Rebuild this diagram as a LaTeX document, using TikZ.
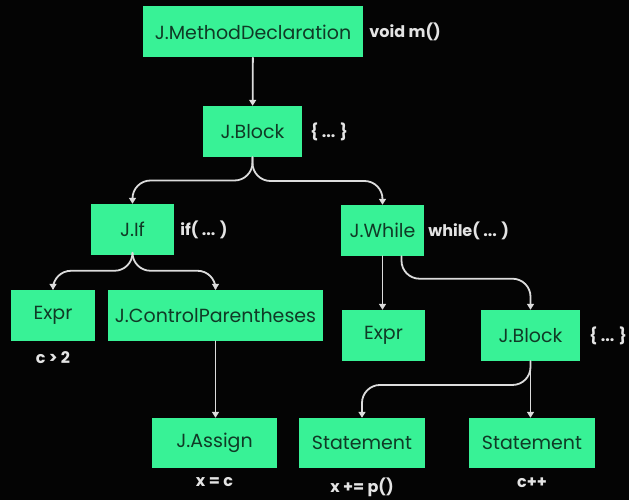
\documentclass[tikz,border=0pt]{standalone}
\usepackage{fontspec}
\setmainfont{Poppins}
\usetikzlibrary{positioning,arrows.meta,calc}
\definecolor{bgcol}{RGB}{4,4,4}
\definecolor{boxgreen}{RGB}{56,242,150}
\definecolor{boxtext}{RGB}{16,58,38}
\definecolor{wirecol}{RGB}{220,220,220}
\definecolor{labcol}{RGB}{228,228,228}
\tikzset{
	treebox/.style={fill=boxgreen, draw=none, text=boxtext, minimum height=51pt, inner sep=0pt, font=\fontsize{19}{21}\selectfont},
	codelab/.style={text=labcol, inner sep=1pt, font=\fontsize{16}{18}\selectfont\bfseries},
	wire/.style={draw=wirecol, line width=1.8pt, -{Triangle[width=7pt,length=6pt]}},
	curvewire/.style={wire, rounded corners=18pt}
}
\begin{document}
\begin{tikzpicture}[x=1pt,y=-1pt, line join=round, line cap=round]
	\fill[bgcol] (0,0) rectangle (629,500);
	\useasboundingbox (0,0) rectangle (629,500);
	% Cac nut cua cay
	\node[treebox, minimum width=220pt] (mdecl) at (253,32) {J.MethodDeclaration};
	\node[treebox, minimum width=99pt] (blk) at (252.5,131.5) {J.Block};
	\node[treebox, minimum width=83pt] (jif) at (132.5,229.5) {J.If};
	\node[treebox, minimum width=84pt] (exprl) at (53,315.5) {Expr};
	\node[treebox, minimum width=215pt] (ctrlp) at (215.5,315.5) {J.ControlParentheses};
	\node[treebox, minimum width=83pt] (jwhile) at (382.5,230.5) {J.While};
	\node[treebox, minimum width=83pt] (exprr) at (383.5,335.5) {Expr};
	\node[treebox, minimum width=99pt] (blkw) at (530.5,335.5) {J.Block};
	\node[treebox, minimum width=125pt, minimum height=50pt] (assign) at (214.5,443) {J.Assign};
	\node[treebox, minimum width=126pt, minimum height=50pt] (stmta) at (362,443) {Statement};
	\node[treebox, minimum width=126pt, minimum height=50pt] (stmtb) at (532,443) {Statement};
	% Nhan ma nguon
	\node[codelab, right=5pt of mdecl] (labm) {void m()};
	\node[codelab, right=7pt of blk] (labb) {\{ ... \}};
	\node[codelab, right=5pt of jif] (labif) {if( ... )};
	\node[codelab, right=3pt of jwhile] (labw) {while( ... )};
	\node[codelab, right=8pt of blkw] (labbw) {\{ ... \}};
	\node[codelab, below=9pt of exprl] (labc) {c > 2};
	\node[codelab, below=8pt of assign] (laba) {x = c};
	\node[codelab, below=8pt of stmta] (labs) {x += p()};
	\node[codelab, below=8pt of stmtb] (labt) {c++};
	% Cac canh
	\coordinate (wout) at ([xshift=19pt]jwhile.south);
	\draw[wire] (mdecl) -- (blk);
	\draw[curvewire] (blk.south) |- ($(blk.south)!.5!(jif.north)$) -| (jif.north);
	\draw[curvewire] (blk.south) |- ($(blk.south)!.5!(jwhile.north)$) -| (jwhile.north);
	\draw[curvewire] (jif.south) |- ($(jif.south)!.45!(exprl.north)$) -| (exprl.north);
	\draw[curvewire] (jif.south) |- ($(jif.south)!.45!(ctrlp.north)$) -| (ctrlp.north);
	\draw[wire] (jwhile.south) -- (jwhile.south |- exprr.north);
	\draw[curvewire] (wout) |- ($(wout)!.42!(blkw.north)$) -| (blkw.north);
	\draw[wire] (ctrlp.south) -- (ctrlp.south |- assign.north);
	\draw[curvewire] (blkw.south) |- ($(blkw.south)!.42!(stmta.north)$) -| (stmta.north);
	\draw[wire] (blkw.south) -- (blkw.south |- stmtb.north);
\end{tikzpicture}
\end{document}
